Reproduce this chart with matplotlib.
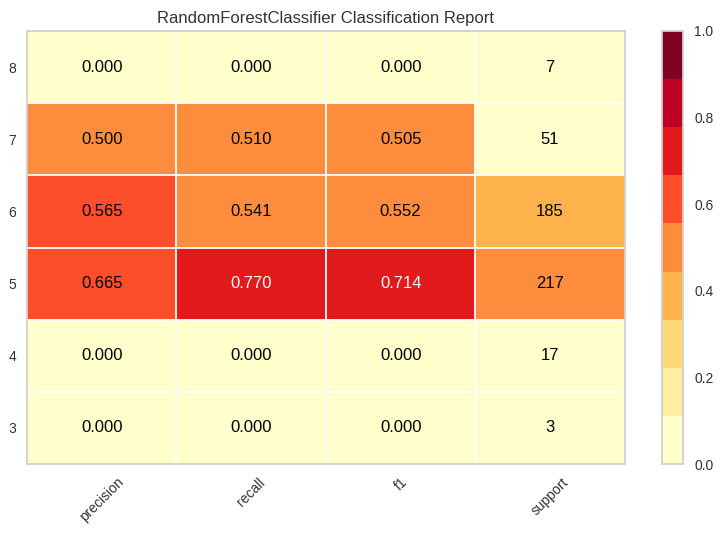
import numpy as np
import matplotlib
matplotlib.use("Agg")
import matplotlib.pyplot as plt
from matplotlib.colors import ListedColormap

plt.rcParams['font.family'] = ['Liberation Sans', 'DejaVu Sans']

classes = ["3", "4", "5", "6", "7", "8"]
metrics = ["precision", "recall", "f1", "support"]
precision = [0.000, 0.000, 0.665, 0.565, 0.500, 0.000]
recall = [0.000, 0.000, 0.770, 0.541, 0.510, 0.000]
f1 = [0.000, 0.000, 0.714, 0.552, 0.505, 0.000]
support = [3, 17, 217, 185, 51, 7]

palette = ['#ffffcc', '#ffeda0', '#fed976', '#feb24c', '#fd8d3c',
           '#fc4e2a', '#e31a1c', '#bd0026', '#800026']
cmap = ListedColormap(palette)

sup = np.array(support, dtype=float)
sup_frac = sup / sup.sum()
matrix = np.column_stack([precision, recall, f1, sup_frac])

fig = plt.figure(figsize=(7.22, 5.34), dpi=100)
ax = fig.add_axes([0.0374, 0.131, 0.828, 0.811])
cax = fig.add_axes([0.917, 0.131, 0.029, 0.811])

mesh = ax.pcolormesh(np.arange(len(metrics) + 1), np.arange(len(classes) + 1),
                     matrix, cmap=cmap, vmin=0, vmax=1)
for k in range(1, len(metrics)):
    ax.axvline(k, color='white', linewidth=1.3)
for k in range(1, len(classes)):
    ax.axhline(k, color='white', linewidth=1.3)

for i in range(len(classes)):
    for j in range(len(metrics)):
        val = matrix[i, j]
        if j == 3:
            txt = "{:d}".format(support[i])
        else:
            txt = "{:0.3f}".format(val)
        rgba = cmap(min(int(val * 9), 8))
        lum = 0.299 * rgba[0] + 0.587 * rgba[1] + 0.114 * rgba[2]
        color = 'white' if lum < 0.4 else 'black'
        ax.text(j + 0.5, i + 0.5, txt, ha='center', va='center',
                fontsize=12, color=color)

ax.set_xlim(0, len(metrics))
ax.set_ylim(0, len(classes))
ax.set_xticks(np.arange(len(metrics)) + 0.5)
ax.set_xticklabels(metrics, rotation=45, fontsize=10, color='#333333')
ax.set_yticks(np.arange(len(classes)) + 0.5)
ax.set_yticklabels(classes, fontsize=10, color='#333333')
ax.tick_params(length=0, pad=8)
for s in ax.spines.values():
    s.set_color('#d0d0d0')
    s.set_linewidth(1.3)
ax.set_title("RandomForestClassifier Classification Report", fontsize=12,
             color='#333333')

cb = fig.colorbar(mesh, cax=cax)
cb.outline.set_edgecolor('#d0d0d0')
cb.outline.set_linewidth(1.3)
cb.set_ticks([0, 0.2, 0.4, 0.6, 0.8, 1.0])
cb.ax.tick_params(length=0, labelsize=10, labelcolor='#333333', pad=8)

fig.savefig("out.png", dpi=100, facecolor='white')
